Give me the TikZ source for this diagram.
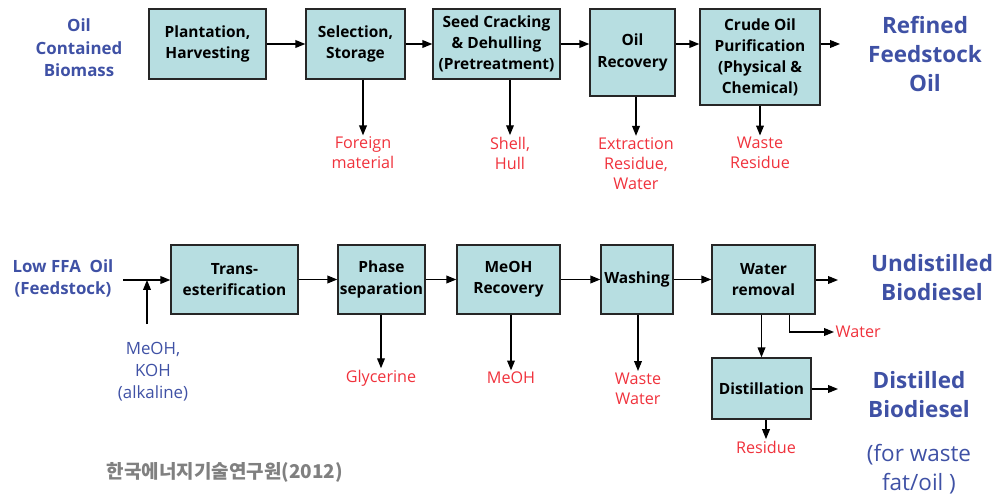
\documentclass[tikz,border=0pt]{standalone}
\usepackage{fontspec}
\setmainfont{Open Sans}
\newfontfamily\krfont{Noto Sans CJK KR}
\usetikzlibrary{arrows.meta}

\definecolor{boxfill}{RGB}{183,222,225}
\definecolor{prodblue}{RGB}{63,81,165}
\definecolor{wastered}{RGB}{240,50,60}
\definecolor{notegray}{RGB}{128,128,128}

\begin{document}
\begin{tikzpicture}[x=0.025cm, y=-0.025cm,
	unitbox/.style={draw=black!85, line width=1pt, fill=boxfill, align=center, inner sep=0pt,
		font=\bfseries\fontsize{11}{15}\selectfont},
	flow/.style={-{Triangle[length=7pt,width=5.5pt]}, line width=0.8pt},
	waste/.style={text=wastered, align=center, inner sep=1pt, font=\fontsize{11.5}{14.2}\selectfont},
	product/.style={text=prodblue, align=center, font=\bfseries\fontsize{16}{20.6}\selectfont},
	feed/.style={text=prodblue, align=center, font=\bfseries\fontsize{12}{16}\selectfont}]

	\useasboundingbox (0,0) rectangle (1003,497);

	\node[feed] (biomass) at (79,48) {Oil\\Contained\\Biomass};
	\node[unitbox, minimum width=2.925cm, minimum height=1.75cm] (plant) at (207.5,44) {Plantation,\\Harvesting};
	\node[unitbox, minimum width=2.475cm, minimum height=1.75cm] (sel) at (355.5,44) {Selection,\\Storage};
	\node[unitbox, minimum width=3.175cm, minimum height=1.75cm] (seed) at (496.5,44) {Seed Cracking\\\& Dehulling\\(Pretreatment)};
	\node[unitbox, minimum width=2.125cm, minimum height=2.175cm] (rec) at (632.5,52.5) {Oil\\Recovery};
	\node[unitbox, minimum width=3cm, minimum height=2.4cm] (crude) at (760,57) {Crude Oil\\Purification\\(Physical \&\\Chemical)};
	\node[product] (refined) at (925,54) {Refined\\Feedstock\\Oil};
	\coordinate (refout) at (840,44);

	\draw[flow] (plant) -- (sel);
	\draw[flow] (sel) -- (seed);
	\draw[flow] (seed.east) -- (seed.east -| rec.west);
	\draw[flow] (rec.east |- seed.east) -- (crude.west |- seed.east);
	\draw[flow] (crude.east |- refout) -- (refout);

	\node[waste] (foreign) at (363,153) {Foreign\\material};
	\node[waste] (shell) at (510,153) {Shell,\\Hull};
	\node[waste] (extract) at (636,163.5) {Extraction\\Residue,\\Water};
	\node[waste] (wresid) at (760,153) {Waste\\Residue};

	\draw[flow] (foreign.north |- sel.south) -- (foreign.north);
	\draw[flow] (shell.north |- seed.south) -- (shell.north);
	\draw[flow] (extract.north |- rec.south) -- (extract.north);
	\draw[flow] (wresid.north |- crude.south) -- (wresid.north);

	\node[feed] (lowffa) at (63,278.5) {Low FFA~~Oil\\(Feedstock)};
	\node[text=prodblue, align=center, font=\fontsize{12}{15.6}\selectfont] (meohkoh) at (153,371.5) {MeOH,\\KOH\\(alkaline)};
	\coordinate (in) at (123,280);
	\coordinate (meohin) at (147,324);
	\node[unitbox, minimum width=3.175cm, minimum height=1.725cm] (trans) at (234.5,279.5) {Trans-\\esterification};
	\node[unitbox, minimum width=2.175cm, minimum height=1.725cm] (phase) at (381.5,279.5) {Phase\\separation};
	\node[unitbox, minimum width=2.575cm, minimum height=1.725cm] (mrec) at (508.5,279.5) {MeOH\\Recovery};
	\node[unitbox, minimum width=1.8cm, minimum height=1.725cm] (wash) at (637,279.5) {Washing};
	\node[unitbox, minimum width=2.575cm, minimum height=1.725cm] (wrem) at (763.5,279.5) {Water\\removal};
	\node[unitbox, minimum width=2.475cm, minimum height=1.525cm] (dist) at (761.5,388.5) {Distillation};

	\draw[flow] (in) -- (trans.west |- in);
	\draw[flow] (meohin) -- (meohin |- in);
	\draw[flow] (trans) -- (phase);
	\draw[flow] (phase) -- (mrec);
	\draw[flow] (mrec) -- (wash);
	\draw[flow] (wash) -- (wrem);

	\node[product] (undist) at (932,278) {Undistilled\\Biodiesel};
	\node[product] (distbd) at (919,394.5) {Distilled\\Biodiesel};
	\node[text=prodblue, align=center, font=\fontsize{16}{20.6}\selectfont] (wastefat) at (919,469.5) {(for waste\\fat/oil~)};
	\coordinate (undout) at (838,280);
	\coordinate (distout) at (838,389);
	\draw[flow] (wrem.east |- undout) -- (undout);
	\draw[flow] (dist.east |- distout) -- (distout);

	\node[waste] (glyc) at (381,378) {Glycerine};
	\node[waste] (meoh) at (511,378) {MeOH};
	\node[waste] (wwater) at (638,388.5) {Waste\\Water};
	\node[waste, anchor=west] (water) at (834,332) {Water};
	\node[waste] (resid) at (766,447) {Residue};

	\draw[flow] (glyc.north |- phase.south) -- (glyc.north);
	\draw[flow] (meoh.north |- mrec.south) -- (meoh.north);
	\draw[flow] (wwater.north |- wash.south) -- (wwater.north);
	\draw[flow] (dist.north |- wrem.south) -- (dist.north);
	\draw[flow] ([xshift=0.65cm]wrem.south) |- (water.west);
	\draw[flow] (resid.north |- dist.south) -- (resid.north);

	\node[text=notegray, font=\krfont\bfseries\fontsize{13.5}{16}\selectfont] (source) at (225,472) {한국에너지기술연구원(2012)};

\end{tikzpicture}
\end{document}
